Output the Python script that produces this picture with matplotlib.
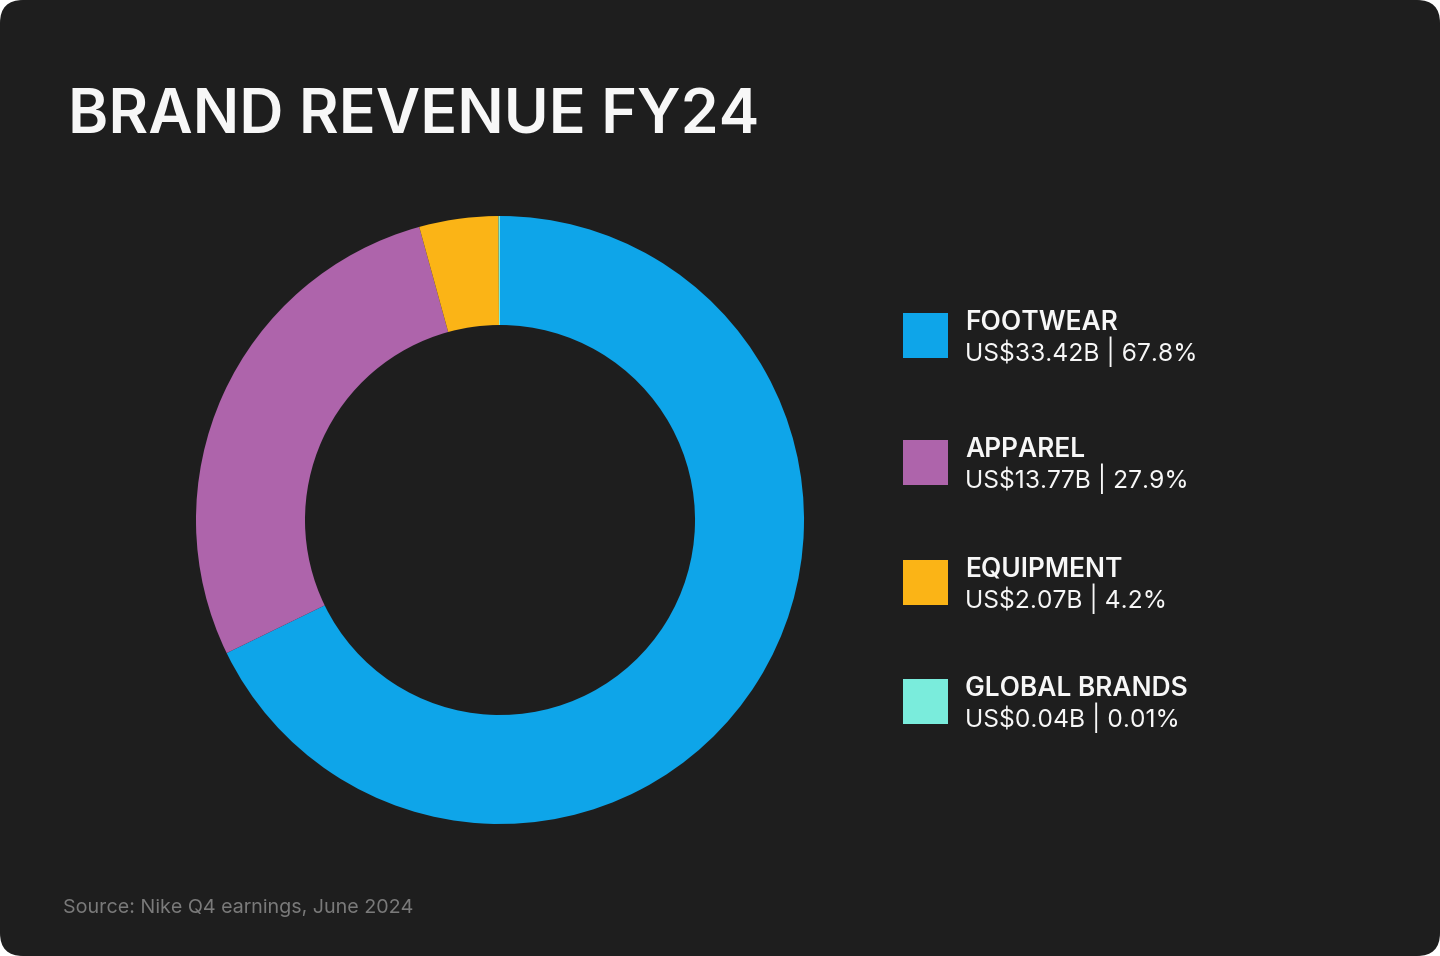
import matplotlib
matplotlib.use('Agg')
import matplotlib.pyplot as plt
from matplotlib.patches import FancyBboxPatch, Rectangle

plt.rcParams['font.family'] = ['Inter', 'DejaVu Sans']

# data
categories = ['FOOTWEAR', 'APPAREL', 'EQUIPMENT', 'GLOBAL BRANDS']
revenue = [33.42, 13.77, 2.07, 0.04]
value_labels = ['US$33.42B | 67.8%', 'US$13.77B | 27.9%', 'US$2.07B | 4.2%', 'US$0.04B | 0.01%']
colors = ['#0ea5e9', '#ae64ab', '#fbb416', '#7aecdc']

W, H = 1440, 956
bg = '#1e1e1e'

fig = plt.figure(figsize=(W / 100, H / 100), dpi=100, facecolor='white')

# rounded dark card (behind everything)
card = FancyBboxPatch((0, 0), 1, 1, boxstyle='round,pad=0,rounding_size=0.016',
                      transform=fig.transFigure, facecolor=bg, edgecolor='none',
                      mutation_aspect=W / H, zorder=-10)
fig.patches.append(card)


def px(x, y):
    return x / W, 1 - y / H


# donut
cx, cy, r = 500, 520, 304
ax = fig.add_axes([(cx - r) / W, (H - cy - r) / H, 2 * r / W, 2 * r / H])
ax.set_zorder(5)
ax.patch.set_visible(False)
ax.pie(revenue, colors=colors, startangle=90, counterclock=False,
       radius=1, wedgeprops=dict(width=1 - 195 / 304, linewidth=0))
ax.set_xlim(-1, 1)
ax.set_ylim(-1, 1)
ax.set_aspect('equal')
ax.axis('off')

# title
fig.text(*px(68, 133), 'BRAND REVENUE FY24', color='#f7f7f7', fontsize=44,
         fontweight='semibold', va='baseline', ha='left')

# legend
square_tops = [313, 440, 560, 679]
for cat, val, col, top in zip(categories, value_labels, colors, square_tops):
    fig.patches.append(Rectangle(px(903, top + 45), 45 / W, 45 / H,
                                 transform=fig.transFigure, facecolor=col,
                                 edgecolor='none', zorder=1))
    fig.text(*px(965, top + 17), cat, color='#f7f7f7', fontsize=19,
             fontweight='semibold', va='baseline', ha='left')
    fig.text(*px(965, top + 48), val, color='#f7f7f7', fontsize=17.8,
             va='baseline', ha='left')

# source
fig.text(*px(63, 913), 'Source: Nike Q4 earnings, June 2024', color='#7a7a7a',
         fontsize=14.2, va='baseline', ha='left')

fig.savefig('out.png', dpi=100, facecolor=fig.get_facecolor())
